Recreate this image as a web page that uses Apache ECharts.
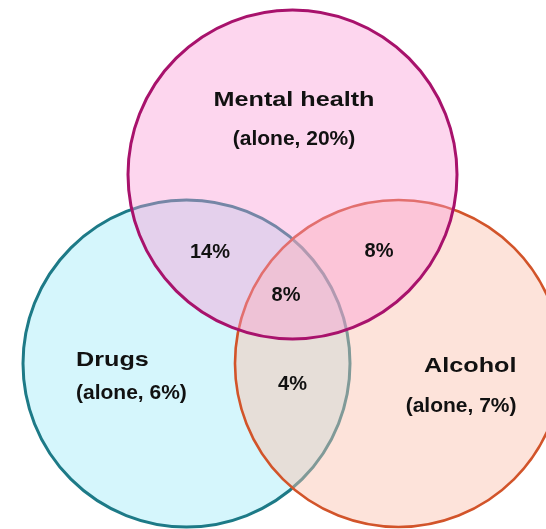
<!DOCTYPE html>
<html>
<head>
<meta charset="utf-8">
<script src="https://cdn.jsdelivr.net/npm/echarts@6/dist/echarts.min.js"></script>
<style>
  html, body { margin: 0; padding: 0; background: #ffffff; }
  #chart { width: 546px; height: 529px; }
</style>
</head>
<body>
<div id="chart"></div>
<script>
// ---- data ----
const setNames = ['Drugs', 'Alcohol', 'Mental health'];
const aloneShare = [6, 7, 20];
const overlapNames = ['Mental health & Drugs', 'Mental health & Alcohol', 'All three', 'Drugs & Alcohol'];
const overlapShare = [14, 8, 8, 4];

// ---- layout (pixel-space coordinates on a 546 x 529 axis) ----
const circleLayout = [
  { cx: 186.5, cy: 363.5, r: 163.5 },   // Drugs
  { cx: 398.5, cy: 363.5, r: 163.5 },   // Alcohol
  { cx: 292.5, cy: 174.5, r: 164.5 }    // Mental health
];
const circleStyle = [
  { fill: 'rgb(213,246,252)', stroke: '#1d7a87', lineWidth: 3 },
  { fill: 'rgba(251,193,173,0.45)', stroke: '#d2542a', lineWidth: 2.6 },
  { fill: 'rgba(250,152,212,0.40)', stroke: '#a8126c', lineWidth: 3 }
];
const titleLayout = [
  { x: 76, y1: 360, y2: 393.5, align: 'left' },
  { x: 516.5, y1: 366.5, y2: 406, align: 'right' },
  { x: 294, y1: 100, y2: 139.5, align: 'center' }
];
const overlapLayout = [
  { x: 210, y: 252.5 },
  { x: 379, y: 251.5 },
  { x: 286, y: 295 },
  { x: 292.5, y: 384.5 }
];

const FONT = '"Liberation Sans", Arial, Helvetica, sans-serif';

const circleData = circleLayout.map((c, i) => ({ name: setNames[i], value: [c.cx, c.cy, c.r] }));

const textData = [];
setNames.forEach((n, i) => {
  const L = titleLayout[i];
  textData.push({ value: [L.x, L.y1], text: n, align: L.align, size: 21, sx: 1.2 });
  textData.push({ value: [L.x, L.y2], text: '(alone, ' + aloneShare[i] + '%)', align: L.align, size: 20, sx: 1.05 });
});
overlapShare.forEach((v, i) => {
  const L = overlapLayout[i];
  textData.push({ value: [L.x, L.y], text: v + '%', align: 'center', size: 20, sx: 1.0, name: overlapNames[i] });
});

const chart = echarts.init(document.getElementById('chart'), null, { renderer: 'canvas' });
chart.setOption({
  animation: false,
  backgroundColor: '#ffffff',
  grid: { left: 0, right: 0, top: 0, bottom: 0 },
  xAxis: { type: 'value', min: 0, max: 546, show: false },
  yAxis: { type: 'value', min: 0, max: 529, inverse: true, show: false },
  series: [
    {
      type: 'custom',
      z: 1,
      data: circleData,
      renderItem: function (params, api) {
        const i = params.dataIndex;
        const c = api.coord([api.value(0), api.value(1)]);
        const r = api.size([api.value(2), 0])[0];
        const s = circleStyle[i];
        return {
          type: 'circle',
          shape: { cx: c[0], cy: c[1], r: r },
          style: { fill: s.fill, stroke: s.stroke, lineWidth: s.lineWidth }
        };
      }
    },
    {
      type: 'custom',
      z: 5,
      data: textData,
      renderItem: function (params, api) {
        const d = textData[params.dataIndex];
        const p = api.coord([api.value(0), api.value(1)]);
        return {
          type: 'text',
          x: p[0],
          y: p[1],
          scaleX: d.sx,
          style: {
            text: d.text,
            font: 'bold ' + d.size + 'px ' + FONT,
            fill: '#111111',
            align: d.align,
            verticalAlign: 'middle'
          }
        };
      }
    }
  ]
});
</script>
</body>
</html>
